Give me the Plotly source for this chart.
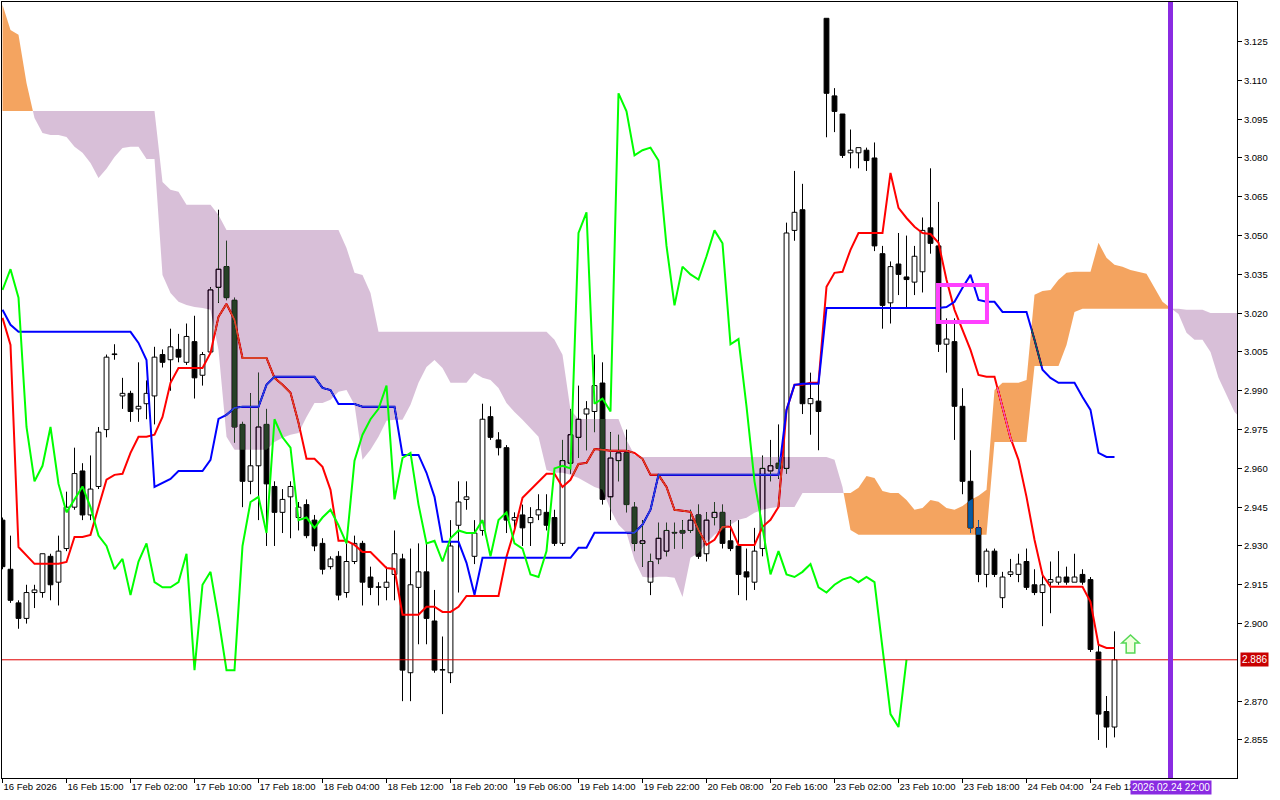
import numpy as np
import plotly.graph_objects as go

# ---------------- data (H1 bars, index 0 = 16 Feb 2026 first bar) ----------------
OPEN = [2.940, 2.921, 2.908, 2.902, 2.912, 2.912, 2.926, 2.916, 2.929, 2.945,
        2.959, 2.942, 2.953, 2.975, 3.004, 2.988, 2.989, 2.983, 2.985, 2.988,
        3.004, 3.002, 3.006, 3.001, 3.009, 2.996, 3.005, 3.030, 3.038, 3.025,
        2.977, 2.955, 2.961, 2.977, 2.953, 2.943, 2.949, 2.941, 2.946, 2.940,
        2.931, 2.922, 2.926, 2.912, 2.924, 2.931, 2.918, 2.914, 2.914, 2.919,
        2.925, 2.881, 2.914, 2.920, 2.901, 2.882, 2.881, 2.938, 2.948, 2.926,
        2.936, 2.980, 2.971, 2.968, 2.940, 2.942, 2.939, 2.942, 2.943, 2.941,
        2.931, 2.962, 2.972, 2.981, 2.982, 2.993, 2.949, 2.963, 2.966, 2.945,
        2.931, 2.916, 2.925, 2.928, 2.935, 2.936, 2.936, 2.942, 2.927, 2.941,
        2.943, 2.932, 2.930, 2.920, 2.916, 2.929, 2.959, 2.962, 2.960, 3.052,
        3.060, 2.985, 2.986, 3.134, 3.104, 3.097, 3.082, 3.082, 3.083, 3.080,
        3.043, 3.024, 3.039, 3.034, 3.032, 3.036, 3.053, 3.046, 3.008, 3.009,
        2.984, 2.955, 2.937, 2.919, 2.928, 2.910, 2.919, 2.919, 2.924, 2.915,
        2.912, 2.916, 2.916, 2.918, 2.916, 2.919, 2.917, 2.889, 2.866, 2.860]
HIGH = [2.941, 2.934, 2.909, 2.915, 2.915, 2.927, 2.927, 2.934, 2.951, 2.968,
        2.962, 2.965, 2.976, 3.004, 3.008, 2.995, 2.990, 3.001, 2.994, 3.007,
        3.006, 3.014, 3.012, 3.016, 3.019, 3.005, 3.030, 3.060, 3.048, 3.026,
        2.978, 2.989, 2.997, 2.983, 2.955, 2.952, 2.955, 2.947, 2.948, 2.942,
        2.933, 2.926, 2.928, 2.931, 2.934, 2.932, 2.922, 2.916, 2.922, 2.936,
        2.927, 2.929, 2.931, 2.931, 2.913, 2.895, 2.940, 2.955, 2.955, 2.940,
        2.985, 2.984, 2.974, 2.969, 2.943, 2.946, 2.945, 2.950, 2.950, 2.944,
        2.971, 2.983, 2.992, 2.986, 3.004, 3.001, 2.974, 2.973, 2.975, 2.947,
        2.940, 2.927, 2.939, 2.939, 2.939, 2.940, 2.944, 2.946, 2.943, 2.947,
        2.946, 2.940, 2.940, 2.929, 2.937, 2.965, 2.971, 2.977, 3.055, 3.075,
        3.070, 2.997, 2.993, 3.134, 3.107, 3.097, 3.091, 3.084, 3.084, 3.086,
        3.046, 3.040, 3.051, 3.050, 3.046, 3.057, 3.076, 3.063, 3.018, 3.018,
        2.991, 2.967, 2.940, 2.929, 2.929, 2.920, 2.925, 2.927, 2.929, 2.921,
        2.920, 2.924, 2.928, 2.922, 2.927, 2.921, 2.918, 2.892, 2.872, 2.897]
LOW = [2.921, 2.908, 2.898, 2.900, 2.906, 2.910, 2.909, 2.907, 2.928, 2.944,
       2.940, 2.940, 2.952, 2.972, 3.002, 2.983, 2.978, 2.978, 2.979, 2.977,
       2.999, 2.990, 3.001, 3.000, 2.987, 2.992, 3.005, 3.024, 3.025, 2.970,
       2.945, 2.950, 2.940, 2.930, 2.930, 2.935, 2.933, 2.936, 2.933, 2.928,
       2.919, 2.921, 2.909, 2.910, 2.923, 2.907, 2.911, 2.907, 2.909, 2.909,
       2.870, 2.870, 2.892, 2.892, 2.881, 2.865, 2.877, 2.912, 2.944, 2.923,
       2.934, 2.971, 2.965, 2.935, 2.936, 2.930, 2.930, 2.940, 2.936, 2.930,
       2.930, 2.958, 2.964, 2.967, 2.974, 2.946, 2.940, 2.955, 2.943, 2.928,
       2.922, 2.911, 2.923, 2.926, 2.929, 2.929, 2.935, 2.925, 2.924, 2.938,
       2.929, 2.928, 2.911, 2.909, 2.913, 2.926, 2.955, 2.956, 2.958, 3.048,
       2.981, 2.973, 2.967, 3.088, 3.090, 3.080, 3.076, 3.076, 3.075, 3.044,
       3.014, 3.016, 3.027, 3.022, 3.027, 3.028, 3.043, 3.005, 2.997, 2.971,
       2.950, 2.935, 2.916, 2.914, 2.918, 2.906, 2.918, 2.916, 2.913, 2.911,
       2.899, 2.904, 2.915, 2.915, 2.916, 2.915, 2.889, 2.855, 2.852, 2.856]
CLOSE = [2.922, 2.909, 2.902, 2.912, 2.913, 2.927, 2.915, 2.928, 2.945, 2.958,
         2.942, 2.952, 2.974, 3.003, 3.004, 2.989, 2.982, 2.984, 2.989, 3.003,
         3.001, 3.007, 3.003, 3.011, 2.995, 3.004, 3.029, 3.037, 3.026, 2.976,
         2.955, 2.961, 2.976, 2.954, 2.943, 2.948, 2.953, 2.945, 2.934, 2.930,
         2.921, 2.925, 2.911, 2.924, 2.931, 2.916, 2.914, 2.914, 2.916, 2.927,
         2.882, 2.915, 2.920, 2.902, 2.882, 2.882, 2.930, 2.947, 2.949, 2.935,
         2.979, 2.972, 2.968, 2.940, 2.941, 2.937, 2.941, 2.944, 2.938, 2.931,
         2.963, 2.973, 2.979, 2.983, 2.992, 2.948, 2.964, 2.966, 2.946, 2.931,
         2.932, 2.924, 2.933, 2.936, 2.935, 2.935, 2.940, 2.926, 2.940, 2.943,
         2.931, 2.929, 2.919, 2.918, 2.928, 2.960, 2.961, 2.960, 3.051, 3.059,
         2.985, 2.987, 2.982, 3.105, 3.098, 3.081, 3.083, 3.084, 3.079, 3.046,
         3.023, 3.038, 3.035, 3.033, 3.042, 3.052, 3.047, 3.008, 3.010, 2.984,
         2.955, 2.937, 2.919, 2.928, 2.919, 2.918, 2.920, 2.923, 2.914, 2.912,
         2.915, 2.917, 2.918, 2.916, 2.918, 2.916, 2.890, 2.865, 2.860, 2.886]

# Ichimoku lines
TENKAN = [3.0182, 3.0077, 2.9296, 2.9265, 2.9231, 2.9231, 2.9231, 2.9231, 2.9238, 2.9335,
          2.9335, 2.9343, 2.9451, 2.9556, 2.9575, 2.9579, 2.9660, 2.9722, 2.9722, 2.9730,
          2.9799, 2.9931, 2.9988, 2.9988, 2.9988, 2.9988, 3.0046, 3.0186, 3.0236, 3.0174,
          3.0027, 3.0027, 3.0027, 3.0027, 2.9950, 2.9923, 2.9892, 2.9776, 2.9637, 2.9637,
          2.9606, 2.9517, 2.9320, 2.9320, 2.9304, 2.9277, 2.9277, 2.9246, 2.9215, 2.9211,
          2.9034, 2.9034, 2.9034, 2.9065, 2.9065, 2.9045, 2.9045, 2.9065, 2.9107, 2.9107,
          2.9107, 2.9107, 2.9107, 2.9258, 2.9362, 2.9486, 2.9517, 2.9544, 2.9579, 2.9579,
          2.9528, 2.9556, 2.9617, 2.9621, 2.9675, 2.9672, 2.9668, 2.9668, 2.9668, 2.9660,
          2.9637, 2.9575, 2.9575, 2.9528, 2.9440, 2.9436, 2.9432, 2.9362, 2.9304, 2.9324,
          2.9374, 2.9374, 2.9304, 2.9304, 2.9304, 2.9374, 2.9401, 2.9451, 2.9826, 2.9923,
          2.9923, 2.9931, 2.9931, 3.0302, 3.0356, 3.0360, 3.0445, 3.0510, 3.0510, 3.0510,
          3.0510, 3.0742, 3.0607, 3.0568, 3.0534, 3.0510, 3.0506, 3.0472, 3.0329, 3.0213,
          3.0135, 3.0058, 2.9961, 2.9954, 2.9954, 2.9838, 2.9718, 2.9633, 2.9490, 2.9324,
          2.9188, 2.9142, 2.9142, 2.9142, 2.9142, 2.9142, 2.9084, 2.8918, 2.8906, 2.8906]
KIJUN = [3.0213, 3.0155, 3.0128, 3.0128, 3.0128, 3.0128, 3.0128, 3.0128, 3.0128, 3.0128,
         3.0128, 3.0128, 3.0128, 3.0128, 3.0128, 3.0128, 3.0128, 3.0085, 3.0019, 2.9528,
         2.9544, 2.9559, 2.9590, 2.9590, 2.9590, 2.9590, 2.9633, 2.9791, 2.9807, 2.9834,
         2.9838, 2.9838, 2.9838, 2.9923, 2.9954, 2.9954, 2.9954, 2.9954, 2.9954, 2.9954,
         2.9911, 2.9903, 2.9849, 2.9849, 2.9849, 2.9838, 2.9838, 2.9838, 2.9838, 2.9838,
         2.9652, 2.9652, 2.9652, 2.9583, 2.9490, 2.9316, 2.9316, 2.9316, 2.9235, 2.9111,
         2.9254, 2.9254, 2.9254, 2.9254, 2.9254, 2.9254, 2.9254, 2.9254, 2.9254, 2.9254,
         2.9254, 2.9254, 2.9293, 2.9293, 2.9351, 2.9351, 2.9351, 2.9351, 2.9351, 2.9351,
         2.9382, 2.9440, 2.9575, 2.9575, 2.9575, 2.9575, 2.9575, 2.9575, 2.9575, 2.9575,
         2.9575, 2.9575, 2.9575, 2.9575, 2.9575, 2.9575, 2.9575, 2.9575, 2.9826, 2.9923,
         2.9927, 2.9927, 2.9927, 3.0220, 3.0220, 3.0220, 3.0220, 3.0220, 3.0220, 3.0220,
         3.0220, 3.0220, 3.0220, 3.0220, 3.0220, 3.0220, 3.0220, 3.0220, 3.0224, 3.0244,
         3.0298, 3.0348, 3.0251, 3.0244, 3.0244, 3.0205, 3.0205, 3.0205, 3.0205, 3.0097,
         2.9981, 2.9950, 2.9931, 2.9931, 2.9931, 2.9876, 2.9826, 2.9660, 2.9644, 2.9644]
# Senkou spans (already shifted 26 bars forward), bars 0..155
SPAN_A = [3.1392, 3.1295, 3.1276, 3.1090, 3.0955, 3.0897, 3.0889, 3.0889, 3.0881, 3.0843,
          3.0820, 3.0781, 3.0723, 3.0758, 3.0804, 3.0839, 3.0843, 3.0843, 3.0796, 3.0796,
          3.0348, 3.0278, 3.0244, 3.0232, 3.0224, 3.0220, 3.0213, 3.0058, 2.9722, 2.9672,
          2.9672, 2.9672, 2.9672, 2.9672, 2.9702, 2.9718, 2.9730, 2.9737, 2.9799, 2.9853,
          2.9853, 2.9865, 2.9896, 2.9903, 2.9846, 2.9633, 2.9672, 2.9722, 2.9784, 2.9788,
          2.9788, 2.9846, 2.9931, 2.9992, 3.0019, 2.9988, 2.9931, 2.9931, 2.9931, 2.9969,
          2.9950, 2.9942, 2.9911, 2.9853, 2.9818, 2.9788, 2.9757, 2.9722, 2.9594, 2.9583,
          2.9583, 2.9575, 2.9563, 2.9544, 2.9528, 2.9517, 2.9440, 2.9382, 2.9351, 2.9246,
          2.9181, 2.9177, 2.9181, 2.9181, 2.9177, 2.9103, 2.9254, 2.9273, 2.9312, 2.9343,
          2.9362, 2.9382, 2.9401, 2.9409, 2.9428, 2.9440, 2.9447, 2.9451, 2.9451, 2.9451,
          2.9505, 2.9505, 2.9505, 2.9505, 2.9505, 2.9505, 2.9505, 2.9525, 2.9571, 2.9563,
          2.9513, 2.9505, 2.9505, 2.9478, 2.9440, 2.9447, 2.9478, 2.9471, 2.9447, 2.9440,
          2.9455, 2.9478, 2.9494, 2.9517, 2.9903, 2.9931, 2.9931, 2.9931, 2.9942, 3.0271,
          3.0286, 3.0290, 3.0329, 3.0356, 3.0360, 3.0360, 3.0360, 3.0472, 3.0414, 3.0387,
          3.0379, 3.0367, 3.0360, 3.0352, 3.0298, 3.0244, 3.0220, 3.0197, 3.0124, 3.0097,
          3.0097, 3.0050, 2.9950, 2.9884, 2.9818, 2.9788]
SPAN_B = [3.0982] * 20 + [3.0707, 3.0677, 3.0669, 3.0619, 3.0619, 3.0619, 3.0619, 3.0580] + \
         [3.0522] * 15 + [3.0452, 3.0356, 3.0348, 3.0278] + [3.0128] * 22 + \
         [3.0097, 3.0039, 2.9826] + [2.9791] * 6 + [2.9710, 2.9652] + [2.9644] * 24 + \
         [2.9633, 2.9528, 2.9362] + [2.9343] * 17 + [2.9702] * 5 + [2.9996] * 4 + \
         [3.0077, 3.0205] + [3.0217] * 13 + [3.0213] * 3 + [3.0201] * 5

X_TICK_BARS = [0, 8, 16, 24, 32, 40, 48, 56, 64, 72, 80, 88, 96, 104, 112, 120, 128, 136]
X_TICK_LABELS = ["16 Feb 2026", "16 Feb 15:00", "17 Feb 02:00", "17 Feb 10:00", "17 Feb 18:00",
                 "18 Feb 04:00", "18 Feb 12:00", "18 Feb 20:00", "19 Feb 06:00", "19 Feb 14:00",
                 "19 Feb 22:00", "20 Feb 08:00", "20 Feb 16:00", "23 Feb 02:00", "23 Feb 10:00",
                 "23 Feb 18:00", "24 Feb 04:00", "24 Feb 12"]
# 2.885 is hidden behind the bid-price label in the reference
Y_TICKS = [2.855, 2.870, 2.900, 2.915, 2.930, 2.945, 2.960, 2.975, 2.990,
           3.005, 3.020, 3.035, 3.050, 3.065, 3.080, 3.095, 3.110, 3.125]
BID_PRICE = 2.886
CURSOR_BAR = 146
CURSOR_LABEL = "2026.02.24 22:00"
CHIKOU_SHIFT = 26
Y_RANGE = [2.8403, 3.1403]
X_RANGE = [-0.0625, 154.3125]

FONT = "Liberation Sans, Arial, sans-serif"

# ---------------- build ----------------
o = np.array(OPEN); h = np.array(HIGH); l = np.array(LOW); c = np.array(CLOSE)
n = len(o)
bars = np.arange(n)
up = c >= o
b_lo = np.minimum(o, c)
b_hi = np.maximum(o, c)
b_h = np.maximum(b_hi - b_lo, 0.00025)

fig = go.Figure()

# white backdrop inside the plot group (needed for the cloud blending)
fig.add_trace(go.Bar(x=[X_RANGE[1] / 2], y=[1.0], base=[Y_RANGE[0] - 0.2], width=[400],
                     marker=dict(color="white", line=dict(width=0)), hoverinfo="skip"))

fig.add_trace(go.Bar(x=bars[up], y=b_h[up], base=b_lo[up], width=0.6,
                     marker=dict(color="white", line=dict(color="black", width=1)), hoverinfo="skip"))
fig.add_trace(go.Bar(x=bars[~up], y=b_h[~up], base=b_lo[~up], width=0.6,
                     marker=dict(color="black", line=dict(color="black", width=1)), hoverinfo="skip"))

wx, wy = [], []
for k in range(n):
    if h[k] > b_hi[k]:
        wx += [k, k, None]; wy += [h[k], b_hi[k], None]
    if l[k] < b_lo[k]:
        wx += [k, k, None]; wy += [b_lo[k], l[k], None]
fig.add_trace(go.Scatter(x=wx, y=wy, mode="lines", line=dict(color="black", width=1),
                         hoverinfo="skip"))

fig.add_trace(go.Scatter(x=bars, y=TENKAN, mode="lines", line=dict(color="#FF0000", width=2),
                         hoverinfo="skip"))
fig.add_trace(go.Scatter(x=bars, y=KIJUN, mode="lines", line=dict(color="#0000FF", width=2),
                         hoverinfo="skip"))

# cloud polygons split at crossings
a = np.array(SPAN_A); b = np.array(SPAN_B)
xs = np.arange(len(a), dtype=float)
d = a - b
polys = []
cur_s = 1 if d[0] >= 0 else -1
cx, ca, cb = [xs[0]], [a[0]], [b[0]]
for i in range(len(a) - 1):
    s_next = np.sign(d[i + 1])
    if s_next != 0 and s_next != cur_s:
        t = d[i] / (d[i] - d[i + 1])
        xc = xs[i] + t
        yc = a[i] + t * (a[i + 1] - a[i])
        cx.append(xc); ca.append(yc); cb.append(yc)
        polys.append((cur_s, cx, ca, cb))
        cx, ca, cb = [xc], [yc], [yc]
        cur_s = int(s_next)
    cx.append(xs[i + 1]); ca.append(a[i + 1]); cb.append(b[i + 1])
polys.append((cur_s, cx, ca, cb))

# colours are inverted: rendered with mix-blend-mode difference (MT5 XOR look)
THISTLE_INV = "rgb(39,64,39)"      # -> thistle on white
SANDY_INV = "rgb(11,91,159)"       # -> sandybrown on white
for sign, col in ((-1, THISTLE_INV), (1, SANDY_INV)):
    px, py = [], []
    for s, X, A, B in polys:
        if s != sign:
            continue
        px += list(X) + list(X[::-1]) + [None]
        py += list(A) + list(B[::-1]) + [None]
    fig.add_trace(go.Scatter(x=px, y=py, mode="lines", fill="toself", fillcolor=col,
                             line=dict(width=0, color=col), hoverinfo="skip"))

# chikou span: close shifted back
fig.add_trace(go.Scatter(x=bars[:n - CHIKOU_SHIFT], y=c[CHIKOU_SHIFT:], mode="lines",
                         line=dict(color="#00FF00", width=2), hoverinfo="skip"))

# ---------------- shapes & labels ----------------
shapes = [
    dict(type="line", xref="paper", yref="y", x0=0, x1=1, y0=BID_PRICE, y1=BID_PRICE,
         line=dict(color="#E00000", width=1)),
    dict(type="line", xref="x", yref="paper", x0=CURSOR_BAR, x1=CURSOR_BAR, y0=0, y1=1,
         line=dict(color="#8A2BE2", width=5)),
    dict(type="rect", xref="x", yref="y", x0=116.94, x1=123.06, y0=3.0166, y1=3.0309,
         line=dict(color="#FF40FF", width=4)),
    dict(type="path", xref="x", yref="y",
         path="M 141.0,2.8956 L 142.09,2.8925 L 141.54,2.8925 L 141.54,2.8886 L 140.46,2.8886 "
              "L 140.46,2.8925 L 139.91,2.8925 Z",
         line=dict(color="#55D855", width=1.5), fillcolor="rgba(230,255,200,0.6)"),
]

annotations = [
    dict(x=1, xref="paper", xanchor="left", xshift=3, y=BID_PRICE, yref="y", yanchor="middle",
         text="2.886", showarrow=False, bgcolor="#C80000", borderpad=1,
         font=dict(family=FONT, size=10, color="white")),
    dict(x=CURSOR_BAR, xref="x", xanchor="center", y=0, yref="paper", yanchor="top", yshift=-2,
         text=CURSOR_LABEL, showarrow=False, bgcolor="#8A2BE2", borderpad=1,
         font=dict(family=FONT, size=10, color="white")),
]

fig.update_layout(
    width=1280, height=800,
    margin=dict(l=2, r=43, t=2, b=22, autoexpand=False),
    paper_bgcolor="white", plot_bgcolor="white",
    showlegend=False, barmode="overlay", hovermode=False,
    shapes=shapes, annotations=annotations,
    font=dict(family=FONT, size=10, color="black"),
    xaxis=dict(range=X_RANGE, showgrid=False, zeroline=False, showline=True, mirror=True,
               linecolor="black", linewidth=1, ticks="outside", ticklen=4, tickcolor="black",
               tickvals=X_TICK_BARS, ticktext=X_TICK_LABELS, ticklabelposition="outside right",
               tickangle=0, automargin=False,
               tickfont=dict(family=FONT, size=9.5, color="black"), fixedrange=True),
    yaxis=dict(range=Y_RANGE, side="right", showgrid=False, zeroline=False, showline=True,
               mirror=True, linecolor="black", linewidth=1, ticks="outside", ticklen=4,
               tickcolor="black", tickvals=Y_TICKS, ticktext=[f"{v:.3f}" for v in Y_TICKS],
               automargin=False,
               tickfont=dict(family=FONT, size=9.5, color="black"), fixedrange=True),
)

post = """
document.body.style.margin = '0';
document.body.style.padding = '0';
document.body.style.overflow = 'hidden';
var gd = document.getElementById('{plot_id}');
function blendCloud(){
  var els = gd.querySelectorAll('g.scatterlayer path.js-fill');
  els.forEach(function(e){ e.style.mixBlendMode = 'difference'; });
}
blendCloud();
if (gd.on) { gd.on('plotly_afterplot', blendCloud); }
setTimeout(blendCloud, 50); setTimeout(blendCloud, 400);
"""

fig.write_html("out.html", config={"displayModeBar": False}, post_script=post)
